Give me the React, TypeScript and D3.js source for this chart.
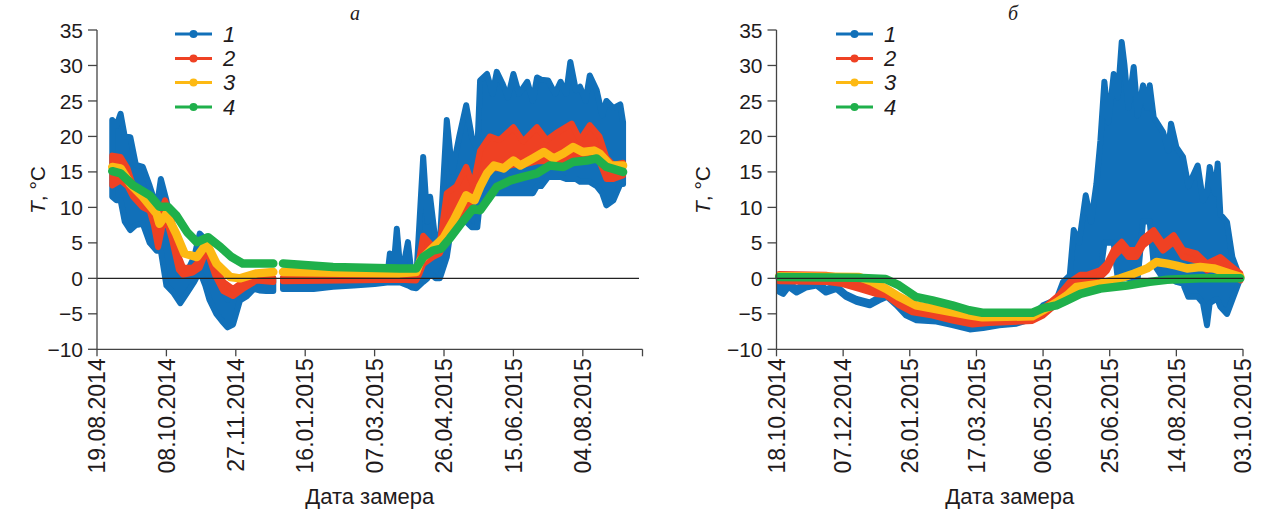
import React from "react";
import * as d3 from "d3";

// ---------- axis / label data ----------
const yTicks = [-10, -5, 0, 5, 10, 15, 20, 25, 30, 35];
const tickStepDays = 50;
const leftTickLabels = ["19.08.2014", "08.10.2014", "27.11.2014", "16.01.2015", "07.03.2015", "26.04.2015", "15.06.2015", "04.08.2015"];
const rightTickLabels = ["18.10.2014", "07.12.2014", "26.01.2015", "17.03.2015", "06.05.2015", "25.06.2015", "14.08.2015", "03.10.2015"];
const leftDomainDays = [0, 393]; // days since 19.08.2014
const rightDomainDays = [0, 350]; // days since 18.10.2014
const legendLabels = ["1", "2", "3", "4"];
const seriesColors = ["#1170b9", "#ef4123", "#fdb913", "#1fb04b"];
const panelTitles = ["а", "б"];
const xAxisTitle = "Дата замера";

// ---------- panel а (left): [day, low, high] envelopes and [day, T] lines ----------
const left1 = [
  [11, 11.5, 22.3], [14, 11, 21.5], [17, 11, 23.2], [20, 8, 20], [24, 6.8, 19.9], [28, 7.5, 16], [33, 7.7, 15.7],
  [38, 5, 13], [43, 3.9, 10], [46, 3.9, 14], [50, -1, 11], [55, -2, 6], [60, -3.5, 2], [65, -2, 1], [70, -0.5, 3],
  [74, 1, 6.3], [78, -1, 5.5], [81, -3, 2], [86, -5, 0], [90, -6, -1.5], [94, -6.9, -3], [98, -6.5, -2], [103, -3.1, -1],
  [108, -2.5, -0.5], [113, -1.5, 0.5], [117, -1.7, 0.3], [122, -1.8, 0], [127, -1.8, 0], null,
  [134, -1.5, 0], [145, -1.5, -0.2], [156, -1.5, -0.2], [170, -1.2, 0], [185, -1, 0], [200, -0.8, 0], [209, -0.6, 0],
  [211, -0.6, 3.5], [213, -0.6, 0], [216, -0.6, 7], [219, -0.6, 0], [224, -1, 5.1], [227, -1.3, 0], [230, -1.4, 0],
  [235, -0.5, 17.1], [238, 0, 8], [240, 0.7, 11.5], [244, 0, 5], [247, 0, 5], [252, 3, 22.3], [256, 8.2, 15],
  [261, 8, 20], [266, 8, 24.4], [270, 7.2, 20], [274, 7.2, 18], [276, 11, 27.9], [281, 12, 28.8], [285, 12, 26],
  [288, 12, 29.1], [292, 12, 27.5], [296, 12, 25.5], [300, 12, 28.8], [304, 12, 26], [310, 12, 27.7], [314, 12, 25],
  [317, 13, 28.3], [320, 13, 28], [325, 14.3, 27.9], [330, 14.3, 26], [334, 14.3, 27.7], [338, 14, 26], [341, 14, 30.5],
  [345, 14, 26.5], [348, 13.6, 27], [352, 13.6, 25], [355, 13.6, 28.6], [360, 13, 26.5], [364, 12, 23], [367, 10.3, 25],
  [372, 11, 24], [377, 13.3, 24.5], [379, 13.3, 22],
];
const left2 = [
  [11, 13.1, 17.3], [17, 13.8, 17.1], [22, 13, 15.5], [26, 11.5, 13], [33, 10, 11], [38, 9.5, 10.8], [41, 7.5, 9],
  [44, 4.4, 8], [49, 9, 11], [54, 5.5, 8], [59, 1.2, 3], [62, 0.5, 1.5], [69, 0.8, 1.5], [74, 1.5, 2.5], [79, 4, 5],
  [85, 0.5, 1.8], [91, -1.8, -0.5], [98, -2.5, -1.5], [105, -1.5, -0.5], [115, -0.3, 0.2], [127, -0.5, 0], null,
  [134, -0.4, 0.1], [218, -0.2, 0.2], [230, -0.3, 0.3], [232, 0.5, 2.5], [235, 2, 6], [242, 3, 4.5], [247, 3.5, 5],
  [252, 6, 12], [259, 8, 13], [266, 10, 15.7], [271, 11, 13], [276, 13, 18], [283, 15.5, 20], [290, 15.5, 19.5],
  [300, 16, 21.3], [307, 16, 19.3], [317, 16.5, 21.3], [324, 16.5, 19.5], [331, 16.5, 20.5], [342, 17, 21.8],
  [348, 17, 19.5], [355, 17, 21.6], [362, 16.5, 20], [367, 14, 17], [372, 14, 16], [379, 14.5, 16.3],
];
const left3 = [
  [11, 15.7], [17, 15.5], [24, 13.3], [33, 11.5], [43, 9.1], [45, 7.7], [50, 9.1], [57, 6.3], [63, 3.5], [72, 3.0],
  [79, 4.9], [86, 2.1], [96, 0.2], [103, 0.0], [115, 0.7], [127, 0.9], null, [134, 0.9], [218, 0.7], [230, 0.9],
  [233, 2.5], [240, 3.9], [250, 5.8], [257, 8.2], [266, 11.7], [272, 11.0], [276, 12.9], [281, 14.8], [286, 15.9],
  [293, 15.5], [300, 16.6], [305, 15.9], [314, 16.9], [322, 17.8], [329, 16.9], [336, 17.6], [343, 18.5], [350, 17.8],
  [358, 18.0], [362, 17.6], [370, 15.9], [379, 15.9],
];
const left4 = [
  [11, 15.1], [17, 14.8], [26, 13.1], [38, 11.7], [45, 10.1], [51, 10.1], [57, 8.9], [65, 6.5], [72, 5.1], [80, 5.8],
  [89, 4.4], [97, 3.0], [105, 2.1], [127, 2.1], null, [134, 2.1], [170, 1.6], [218, 1.4], [230, 1.4], [235, 3.0],
  [242, 3.9], [248, 4.2], [254, 5.6], [263, 7.9], [271, 9.8], [276, 9.6], [283, 11.5], [288, 12.9], [298, 13.8],
  [307, 14.3], [317, 14.8], [326, 15.9], [336, 15.7], [343, 16.4], [353, 16.6], [360, 16.9], [367, 15.7], [379, 15.0],
];

// ---------- panel б (right) ----------
const right1 = [
  [2, -1.9, -0.5], [5, -2.2, -1.0], [9, -1.2, -0.7], [15, -2.0, -1.4], [22, -1.3, -0.8], [30, -1.0, -0.5],
  [37, -2.0, -1.5], [45, -1.5, -1.1], [52, -2.6, -2.2], [60, -3.3, -2.9], [70, -3.8, -3.4], [77, -3.1, -2.7],
  [83, -2.6, -2.2], [90, -3.8, -3.4], [97, -5.2, -4.8], [105, -5.9, -5.5], [120, -6.1, -5.7], [132, -6.6, -6.2],
  [145, -7.2, -6.9], [155, -7.0, -6.7], [167, -6.6, -6.2], [180, -6.4, -6.0], [192, -5.7, -5.3], [200, -4.2, -3.8],
  [210, -3.6, -3.0], [215, -1.0, -0.5], [220, -0.2, 0.4], [223, -0.3, 6.8], [227, -0.5, 5], [232, -0.3, 11.7],
  [236, 0, 8], [240, -0.3, 13.3], [243, 0.7, 19.4], [246, 5.0, 27.7], [249, 5.0, 22], [253, 5.0, 28.8], [256, 0, 25.5],
  [259, 0, 33.3], [261, 0, 30.2], [264, 0, 24], [268, 0, 29.8], [271, 0, 23], [275, 8, 27.2], [278, 8, 24],
  [280, 8, 27.2], [283, 2, 22.7], [290, 0, 20.6], [294, 0, 18], [296, 0, 21.8], [300, -0.5, 18.5], [305, -0.75, 17.1],
  [309, -2.6, 13], [316, -2.6, 15.9], [320, -3.5, 11], [323, -6.6, 12], [325, -3.5, 15.7], [329, -3, 12],
  [331, -3, 16.2], [333, -4, 9], [338, -5, 7.9], [342, -3, 3], [346, -1, 1], [348, 0, 0.5],
];
const right2 = [
  [2, 0.1], [37, 0], [49.5, -0.3], [62, -1.0], [74.5, -1.7], [82, -1.9], [92, -3.3], [102, -4.3], [117, -4.75],
  [132, -5.45], [147, -6.0], [159.5, -5.8], [192, -5.5], [200, -4.75], [212, -2.8], [220, -1.0], [228, 0], [233, 0],
  [243, 0.66], [248, 1.6], [253, 3.5], [259, 4.65], [264, 3.5], [270, 3.5], [275, 5.1], [283, 6.3], [290, 4.4],
  [298, 5.6], [305, 3.5], [315, 3.0], [323, 1.6], [333, 2.5], [340, 1.4], [348, 0.2],
];
const right3 = [
  [2, 0.3], [62, 0.2], [72, -0.5], [82, -1.45], [92, -2.6], [104.5, -3.8], [124.5, -4.5], [144.5, -5.2], [154.5, -5.5],
  [192, -5.35], [200, -4.5], [210, -3.4], [218, -2.4], [225, -1.2], [243, -0.75], [258, 0], [268, 0.66], [278, 1.4],
  [285, 2.3], [293, 2.07], [300, 1.8], [308, 1.4], [318, 1.6], [328, 1.4], [340, 0.66], [348, 0.2],
];
const right4 = [
  [2, 0.2], [60, 0.1], [82, -0.1], [92, -1.0], [104.5, -2.6], [117, -3.1], [132, -3.8], [144.5, -4.5], [154.5, -4.85],
  [192, -4.85], [200, -4.2], [210, -3.8], [218, -3.1], [228, -2.2], [243, -1.45], [263, -1.0], [280, -0.5],
  [293, -0.2], [318, 0], [348, 0],
];

const FONT = "'Liberation Sans', Arial, Helvetica, sans-serif";
const INK = "#1f1b1c";

type PanelProps = {
  x0: number; x1: number; domain: number[]; tickLabels: string[]; title: string;
  envelopes: any[][]; lines: any[][]; legendX: number; titleX: number; yTitleX: number; zeroEnd: number;
};

function Panel(p: PanelProps) {
  const yTop = 30, yBot = 349.3;
  const x = d3.scaleLinear().domain(p.domain).range([p.x0, p.x1]);
  const y = d3.scaleLinear().domain([-10, 35]).range([yBot, yTop]);
  const area = d3.area<any>().defined((d) => d != null).x((d) => x(d[0])).y0((d) => y(d[1])).y1((d) => y(d[2]));
  const line = d3.line<any>().defined((d) => d != null).x((d) => x(d[0])).y((d) => y(d[1]));
  const ticks = d3.range(p.tickLabels.length).map((i) => i * tickStepDays);
  const endTick = p.domain[1];
  const legendRows = [34, 58.5, 82.5, 107];
  return (
    <g>
      {/* data */}
      <path d={area(p.envelopes[0]) || ""} fill={seriesColors[0]} stroke={seriesColors[0]} strokeWidth={6} strokeLinejoin="round" />
      <path d={area(p.envelopes[1]) || ""} fill={seriesColors[1]} stroke={seriesColors[1]} strokeWidth={6} strokeLinejoin="round" />
      <path d={line(p.lines[0]) || ""} fill="none" stroke={seriesColors[2]} strokeWidth={8.5} strokeLinejoin="round" strokeLinecap="round" />
      <path d={line(p.lines[1]) || ""} fill="none" stroke={seriesColors[3]} strokeWidth={8.5} strokeLinejoin="round" strokeLinecap="round" />
      {/* zero line */}
      <line x1={p.x0} x2={p.zeroEnd} y1={y(0)} y2={y(0)} stroke="#222" strokeWidth={1.3} />
      {/* axes */}
      <line x1={p.x0} x2={p.x0} y1={yTop} y2={yBot} stroke="#444" strokeWidth={1.3} />
      <line x1={p.x0} x2={x(endTick)} y1={yBot} y2={yBot} stroke="#444" strokeWidth={1.3} />
      {yTicks.map((t) => (
        <g key={t}>
          <line x1={p.x0 - 9} x2={p.x0} y1={y(t)} y2={y(t)} stroke="#444" strokeWidth={1.3} />
          <text x={p.x0 - 14} y={y(t)} dy="0.36em" textAnchor="end" fontSize={21} fill={INK} fontFamily={FONT}>
            {t < 0 ? "\u2212" + Math.abs(t) : String(t)}
          </text>
        </g>
      ))}
      {ticks.map((t, i) => (
        <g key={t}>
          <line x1={x(t)} x2={x(t)} y1={yBot} y2={yBot + 7} stroke="#444" strokeWidth={1.3} />
          <text transform={`translate(${x(t)},${yBot + 9}) rotate(-90)`} dy="0.36em" textAnchor="end" fontSize={23} fill={INK} fontFamily={FONT}>
            {p.tickLabels[i]}
          </text>
        </g>
      ))}
      {endTick !== ticks[ticks.length - 1] && (
        <line x1={x(endTick)} x2={x(endTick)} y1={yBot} y2={yBot + 7} stroke="#444" strokeWidth={1.3} />
      )}
      <text x={(p.x0 + x(endTick)) / 2} y={504} textAnchor="middle" fontSize={22} fill={INK} fontFamily={FONT}>{xAxisTitle}</text>
      <text transform={`translate(${p.yTitleX},190) rotate(-90)`} textAnchor="middle" fontSize={21} fill={INK} fontFamily={FONT}>
        <tspan fontStyle="italic">T</tspan>, °C
      </text>
      <text x={p.titleX} y={20} textAnchor="middle" fontSize={20} fontStyle="italic" fill={INK} fontFamily="'Liberation Serif', 'Times New Roman', serif">{p.title}</text>
      {/* legend */}
      {legendLabels.map((lab, i) => (
        <g key={lab}>
          <line x1={p.legendX} x2={p.legendX + 37} y1={legendRows[i]} y2={legendRows[i]} stroke={seriesColors[i]} strokeWidth={3} />
          <circle cx={p.legendX + 18.5} cy={legendRows[i]} r={4} fill={seriesColors[i]} />
          <text x={p.legendX + 48} y={legendRows[i]} dy="0.36em" fontSize={22} fontStyle="italic" fill={INK} fontFamily={FONT}>{lab}</text>
        </g>
      ))}
    </g>
  );
}

export default function App() {
  return (
    <svg width={1263} height={512} style={{ position: "absolute", left: 0, top: 0, background: "#fff" }}>
      <rect width={1263} height={512} fill="#fff" />
      <Panel x0={97} x1={642.5} domain={leftDomainDays} tickLabels={leftTickLabels} title={panelTitles[0]}
        envelopes={[left1, left2]} lines={[left3, left4]} legendX={175} titleX={355} yTitleX={45} zeroEnd={639} />
      <Panel x0={776.5} x1={1243} domain={rightDomainDays} tickLabels={rightTickLabels} title={panelTitles[1]}
        envelopes={[right1, right2.map((d) => [d[0], d[1] - 0.5, d[1] + 0.5])]} lines={[right3, right4]} legendX={836} titleX={1013} yTitleX={710} zeroEnd={1243} />
    </svg>
  );
}
